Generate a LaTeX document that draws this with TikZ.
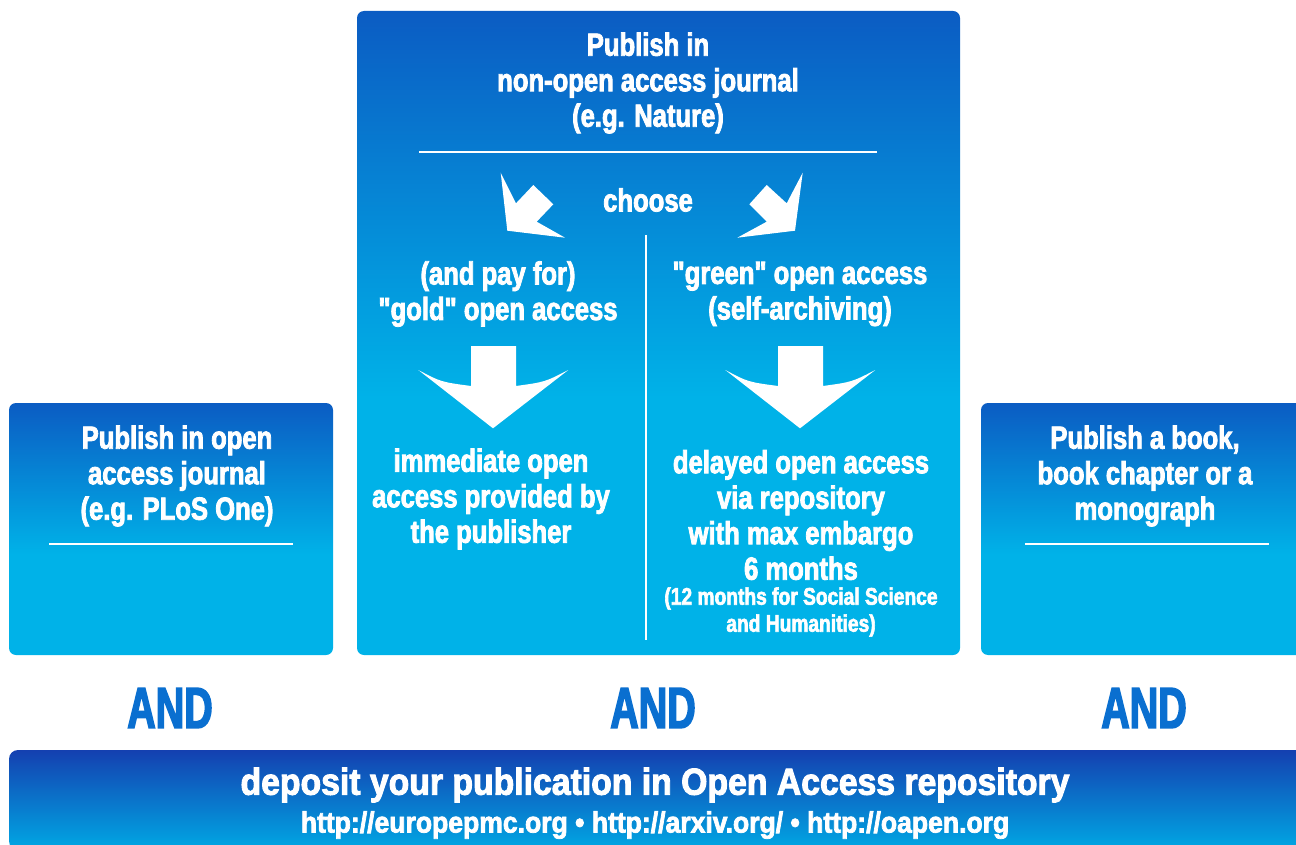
\documentclass[tikz,border=0pt]{standalone}
\usepackage{fontspec}
\setmainfont{Liberation Sans}
\newfontfamily\cond[FakeStretch=0.80,FakeBold=2.5]{Liberation Sans}
\newfontfamily\condwide[FakeStretch=0.90,FakeBold=2.5]{Liberation Sans}
\newfontfamily\condand[FakeStretch=0.68,FakeBold=2.5]{Liberation Sans}
\definecolor{dkb}{HTML}{0B5CC3}
\definecolor{cyb}{HTML}{00B2E8}
\definecolor{bartop}{HTML}{1440B0}
\definecolor{barbot}{HTML}{00A8E4}
\definecolor{andc}{HTML}{0A6FD0}
\pgfdeclareverticalshading{boxshade}{100bp}{color(0bp)=(cyb); color(45bp)=(cyb); color(75bp)=(dkb); color(100bp)=(dkb)}
\pgfdeclareverticalshading{barshade}{100bp}{color(0bp)=(barbot); color(25bp)=(barbot); color(75bp)=(bartop); color(100bp)=(bartop)}
\begin{document}
\begin{tikzpicture}[x=1pt,y=-1pt,
  panel/.style={rectangle, rounded corners=7pt, shading=boxshade, inner sep=0, draw=none},
  txt/.style={text=white, font=\cond\bfseries\fontsize{32}{35.5}\selectfont, align=center, inner sep=0},
  smalltxt/.style={text=white, font=\cond\bfseries\fontsize{24}{27}\selectfont, align=center, inner sep=0},
  andtxt/.style={text=andc, font=\condand\bfseries\fontsize{58}{60}\selectfont, inner sep=0},
  rule/.style={white, line width=1.6pt},
  arrowfill/.style={fill=white, draw=none}]
\useasboundingbox (0,0) rectangle (1296,845);
\clip (0,0) rectangle (1296,845);

% panels
\node[panel, minimum width=603pt, minimum height=644pt] (mid) at (658.5,333) {};
\node[panel, minimum width=324pt, minimum height=252pt] (left) at (171,529) {};
\node[panel, minimum width=340pt, minimum height=252pt] (right) at (1151,529) {};
\node[rectangle, rounded corners=9pt, shading=barshade, inner sep=0, minimum width=1310pt, minimum height=100pt] (bar) at (664,800) {};

% middle panel contents
\node[txt] (midtitle) at (648,83) {Publish in\\non-open access journal\\(e.g. Nature)};
\coordinate (r1a) at (419,152); \coordinate (r1b) at (877,152);
\draw[rule] (r1a) -- (r1b);
\node[txt] (choose) at (648,200) {choose};
\coordinate (dv1) at (646,235); \coordinate (dv2) at (646,640);
\draw[rule] (dv1) -- (dv2);

% choose arrows
\fill[arrowfill] (507.3,230.7) -- (500.7,172.7) -- (516,203.3) -- (533.3,185) -- (553.3,204.3) -- (536.7,221.7) -- (565,237.7) -- cycle;
\fill[arrowfill] (795,230.7) -- (802.7,172.7) -- (786.7,203.3) -- (766.7,185) -- (749.3,204.3) -- (766.7,221.7) -- (737.3,237.7) -- cycle;

\node[txt] (gold) at (498,294) {(and pay for)\\"gold" open access};
\node[txt] (green) at (800,294) {"green" open access\\(self-archiving)};

% down arrows
\fill[arrowfill] (471,346) -- (516,346) -- (516,386) .. controls (545,382) .. (568.3,370) -- (493,428.3) -- (418.3,370) .. controls (441,382) .. (471,386) -- cycle;
\fill[arrowfill] (778,346) -- (823,346) -- (823,386) .. controls (852,382) .. (875.3,370) -- (800,428.3) -- (725.3,370) .. controls (748,382) .. (778,386) -- cycle;

\node[txt] (immediate) at (491,499) {immediate open\\access provided by\\the publisher};
\node[txt] (delayed) at (801,515) {delayed open access\\via repository\\with max embargo\\6 months};
\node[smalltxt] (twelve) at (801,612) {(12 months for Social Science\\and Humanities)};

% left panel
\node[txt] (lefttitle) at (177,476) {Publish in open\\access journal\\(e.g. PLoS One)};
\coordinate (r2a) at (49,544); \coordinate (r2b) at (293,544);
\draw[rule] (r2a) -- (r2b);

% right panel
\node[txt] (righttitle) at (1145,476) {Publish a book,\\book chapter or a\\monograph};
\coordinate (r3a) at (1025,544); \coordinate (r3b) at (1269,544);
\draw[rule] (r3a) -- (r3b);

% AND
\node[andtxt] (and1) at (170,708) {AND};
\node[andtxt] (and2) at (653,708) {AND};
\node[andtxt] (and3) at (1144,708) {AND};

% bottom bar text
\node[text=white, font=\condwide\bfseries\fontsize{37.5}{40}\selectfont, inner sep=0] (deposit) at (655,785) {deposit your publication in Open Access repository};
\node[text=white, font=\condwide\bfseries\fontsize{29.5}{31}\selectfont, inner sep=0] (urls) at (655,825) {http://europepmc.org • http://arxiv.org/ • http://oapen.org};
\end{tikzpicture}
\end{document}
